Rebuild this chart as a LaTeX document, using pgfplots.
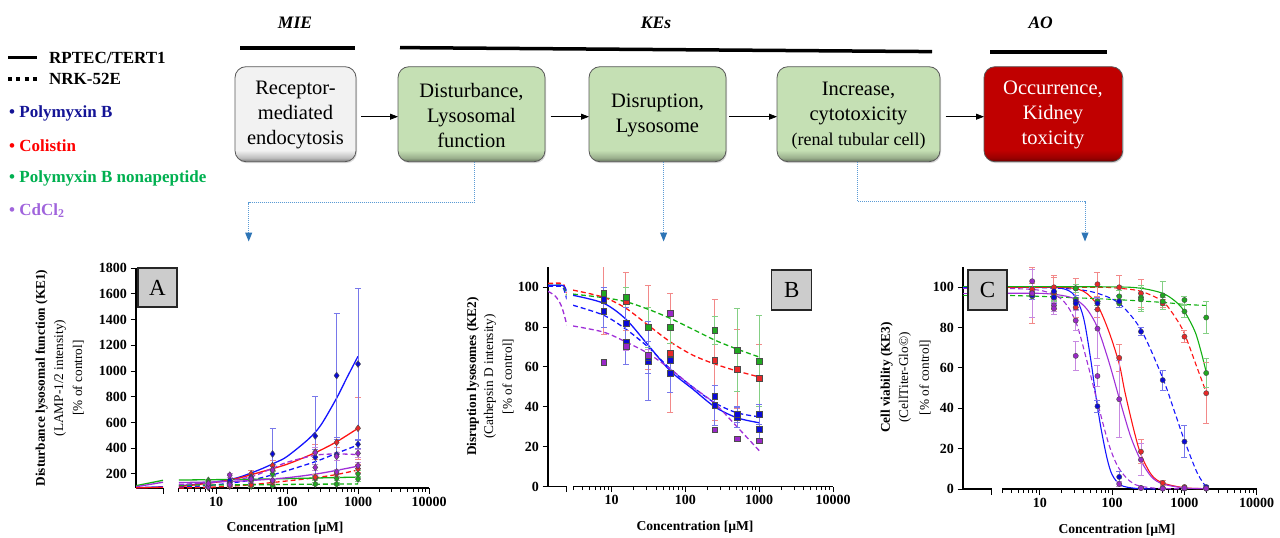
\documentclass[border=0pt]{standalone}
\usepackage{fontspec}
\setmainfont{Liberation Serif}
\usepackage{pgfplots}
\pgfplotsset{compat=1.18}
\usetikzlibrary{arrows.meta,shadows}

\definecolor{cB}{HTML}{1414FF}
\definecolor{cR}{HTML}{FF1414}
\definecolor{cG}{HTML}{12B012}
\definecolor{cP}{HTML}{A030D8}
\definecolor{mB}{HTML}{0A0AD8}
\definecolor{mR}{HTML}{E82828}
\definecolor{mG}{HTML}{20A820}
\definecolor{mP}{HTML}{9A28C8}
\definecolor{lgB}{HTML}{141496}
\definecolor{lgR}{HTML}{FF0000}
\definecolor{lgG}{HTML}{00B050}
\definecolor{lgP}{HTML}{A064DC}
\definecolor{boxG}{HTML}{C5E0B4}
\definecolor{boxW}{HTML}{F2F2F2}
\definecolor{boxR}{HTML}{C00000}
\definecolor{conn}{HTML}{5B9BD5}
\definecolor{connA}{HTML}{2E75B6}
\colorlet{boxGd}{boxG!50!black}
\colorlet{boxGm}{boxG!78!black}
\colorlet{boxWd}{boxW!50!black}
\colorlet{boxWm}{boxW!78!black}
\colorlet{boxRd}{boxR!55!black}
\colorlet{boxRm}{boxR!80!black}
\pgfdeclareverticalshading{shG}{100bp}{color(0bp)=(boxGd); color(25bp)=(boxGd); color(27bp)=(boxGm); color(31bp)=(boxG); color(100bp)=(boxG)}
\pgfdeclareverticalshading{shW}{100bp}{color(0bp)=(boxWd); color(25bp)=(boxWd); color(27bp)=(boxWm); color(31bp)=(boxW); color(100bp)=(boxW)}
\pgfdeclareverticalshading{shR}{100bp}{color(0bp)=(boxRd); color(25bp)=(boxRd); color(27bp)=(boxRm); color(31bp)=(boxR); color(100bp)=(boxR)}

\pgfplotsset{
  myKstyle/.style={scale only axis, anchor=south west, tick align=outside,
    axis line style={line width=1.1pt, black},
    every tick/.style={line width=1pt, black},
    major tick length=5.5pt, minor tick length=3.5pt,
    ticklabel style={font=\bfseries\fontsize{14}{14}\selectfont},
    /pgf/number format/assume math mode=true,
    /pgf/number format/1000 sep={},
    scaled ticks=false},
  myLeftSeg/.style={xmin=0, xmax=1, axis x line*=bottom, axis y line*=left, xtick={1}, xticklabels={}},
  mySC/.style={line width=1.3pt, smooth, no marks, #1},
  myDC/.style={line width=1.3pt, smooth, no marks, dash pattern=on 5pt off 3pt, #1},
  myPts/.style n args={3}{only marks, mark=#1, mark size=#2,
    mark options={fill=#3, draw=black!70, line width=0.45pt, solid},
    error bars/y dir=both, error bars/y explicit,
    error bars/error bar style={#3!55!white, line width=0.9pt, solid},
    error bars/error mark options={rotate=90, #3!55!white, mark size=3pt, line width=0.9pt, solid}},
}

\begin{document}
\begin{tikzpicture}[x=1pt, y=-1pt]
\path[use as bounding box] (0,0) rectangle (1280,538);

% ---------- legend ----------
\draw[line width=3.5pt] (8,57.7)--(37,57.7);
\draw[line width=3.5pt, dash pattern=on 4pt off 4.3pt] (8,79)--(37,79);
\node[anchor=west, inner sep=0, font=\bfseries\fontsize{17}{20}\selectfont] at (49,57.5) {RPTEC/TERT1};
\node[anchor=west, inner sep=0, font=\bfseries\fontsize{17}{20}\selectfont] at (49,79) {NRK-52E};
\node[anchor=west, inner sep=0, text=lgB, font=\bfseries\fontsize{17}{20}\selectfont] at (9,113.3) {\textbullet\ Polymyxin B};
\node[anchor=west, inner sep=0, text=lgR, font=\bfseries\fontsize{17}{20}\selectfont] at (9,146) {\textbullet\ Colistin};
\node[anchor=west, inner sep=0, text=lgG, font=\bfseries\fontsize{17}{20}\selectfont] at (9,178.3) {\textbullet\ Polymyxin B nonapeptide};
\node[anchor=west, inner sep=0, text=lgP, font=\bfseries\fontsize{17}{20}\selectfont] at (9,210.7) {\textbullet\ CdCl\textsubscript{2}};

% ---------- header ----------
\node[font=\bfseries\itshape\fontsize{17.5}{20}\selectfont] at (295,23) {MIE};
\node[font=\bfseries\itshape\fontsize{17.5}{20}\selectfont] at (656,23) {KEs};
\node[font=\bfseries\itshape\fontsize{17.5}{20}\selectfont] at (1040.7,23) {AO};
\draw[line width=3.5pt] (240,48)--(355,48);
\draw[line width=3.5pt] (400,47.6)--(932,51.6);
\draw[line width=3.5pt] (990,52)--(1107,52);

% ---------- boxes ----------
\shadedraw[shading=shW, rounded corners=11pt, draw=black!65, line width=0.8pt, drop shadow={shadow xshift=1pt, shadow yshift=-1.5pt, opacity=0.3}] (235,66.7) rectangle (356,161.7);
\shadedraw[shading=shG, rounded corners=11pt, draw=black!65, line width=0.8pt, drop shadow={shadow xshift=1pt, shadow yshift=-1.5pt, opacity=0.3}] (398,66.7) rectangle (545,161.7);
\shadedraw[shading=shG, rounded corners=11pt, draw=black!65, line width=0.8pt, drop shadow={shadow xshift=1pt, shadow yshift=-1.5pt, opacity=0.3}] (589,66.7) rectangle (726,161.7);
\shadedraw[shading=shG, rounded corners=11pt, draw=black!65, line width=0.8pt, drop shadow={shadow xshift=1pt, shadow yshift=-1.5pt, opacity=0.3}] (777,66.7) rectangle (940,161.7);
\shadedraw[shading=shR, rounded corners=11pt, draw=black!65, line width=0.8pt, drop shadow={shadow xshift=1pt, shadow yshift=-1.5pt, opacity=0.3}] (984,66.7) rectangle (1122.7,161.7);

\node[align=center, font=\fontsize{20.5}{25}\selectfont] at (295.5,115) {Receptor-\\mediated\\endocytosis};
\node[align=center, font=\fontsize{20.5}{25}\selectfont] at (471.5,115) {Disturbance,\\Lysosomal\\function};
\node[align=center, font=\fontsize{20.5}{25}\selectfont] at (657.5,115.5) {Disruption,\\Lysosome};
\node[align=center, font=\fontsize{20.5}{25}\selectfont] at (858.5,115.5) {Increase,\\cytotoxicity\\{\fontsize{18}{25}\selectfont (renal tubular cell)}};
\node[align=center, text=white, font=\fontsize{20.5}{25}\selectfont] at (1053,115) {Occurrence,\\Kidney\\toxicity};

\draw[line width=0.8pt, -{Triangle[length=8pt,width=6pt]}] (361,116.7)--(398,116.7);
\draw[line width=0.8pt, -{Triangle[length=8pt,width=6pt]}] (550.7,116.7)--(589,116.7);
\draw[line width=0.8pt, -{Triangle[length=8pt,width=6pt]}] (729,116.7)--(777,116.7);
\draw[line width=0.8pt, -{Triangle[length=8pt,width=6pt]}] (945.7,116.7)--(984,116.7);

% ---------- connectors ----------
\draw[conn, densely dotted, line width=1pt, -{Triangle[length=9pt,width=7pt,color=connA]}] (474.6,162)--(474.6,202.7)--(248.7,202.7)--(248.7,241.5);
\draw[conn, densely dotted, line width=1pt, -{Triangle[length=9pt,width=7pt,color=connA]}] (663.6,162)--(663.6,241.5);
\draw[conn, densely dotted, line width=1pt, -{Triangle[length=9pt,width=7pt,color=connA]}] (857.9,162)--(857.9,201.7)--(1085,201.7)--(1085,241.5);

% =================== PANEL A ===================
\begin{axis}[myKstyle, myLeftSeg, at={(136pt,-488pt)}, width=27pt, height=219.7pt,
  ymin=90, ymax=1800,
  ytick={200,400,600,800,1000,1200,1400,1600,1800},
  yticklabels={200,400,600,800,1000,1200,1400,1600,1800}]
\addplot[mySC=cG] coordinates {(0,108) (1,150)};
\addplot[mySC=cP] coordinates {(0,100) (1,135)};
\addplot[mySC=cB] coordinates {(0,92) (1,100)};
\addplot[mySC=cR] coordinates {(0,91) (1,96)};
\end{axis}
\begin{axis}[myKstyle, xmode=log, xmin=3, xmax=10000, axis x line*=bottom, axis y line=none,
  xtick={10,100,1000,10000}, xticklabels={10,100,1000,10000},
  minor xtick={3,4,5,6,7,8,9,20,30,40,50,60,70,80,90,200,300,400,500,600,700,800,900,2000,3000,4000,5000,6000,7000,8000,9000},
  ytick=\empty, at={(178.9pt,-488pt)}, width=250.1pt, height=219.7pt,
  ymin=90, ymax=1800]
\addplot[mySC=cB] coordinates {(3,108) (5,118) (10,138) (20,170) (40,230) (70,290) (100,335) (200,470) (300,580) (500,790) (700,950) (1000,1115)};
\addplot[mySC=cR] coordinates {(3,100) (10,135) (20,165) (40,210) (100,275) (250,365) (500,450) (1000,555)};
\addplot[myDC=cB] coordinates {(3,95) (10,115) (30,150) (60,190) (100,225) (250,295) (500,360) (1000,425)};
\addplot[myDC=cR] coordinates {(3,90) (10,98) (30,115) (100,145) (250,170) (500,195) (1000,230)};
\addplot[mySC=cG] coordinates {(3,152) (30,158) (100,163) (1000,175)};
\addplot[myDC=cG] coordinates {(3,112) (30,115) (100,118) (1000,122)};
\addplot[mySC=cP] coordinates {(3,132) (10,138) (30,148) (100,170) (300,205) (1000,260)};
\addplot[myDC=cP] coordinates {(3,118) (10,135) (30,175) (60,240) (100,290) (250,345) (500,355) (1000,350)};
% points
\addplot[myPts={diamond*}{3.4pt}{mG}] coordinates {(7.8,150) +- (0,8) (15.6,150) +- (0,10) (31.25,150) +- (0,10) (62.5,200) +- (0,20) (250,165) +- (0,15) (500,165) +- (0,15) (1000,200) +- (0,25)};
\addplot[myPts={diamond*}{3.4pt}{mG}] coordinates {(7.8,130) +- (0,8) (15.6,115) +- (0,8) (31.25,105) +- (0,8) (62.5,110) +- (0,10) (250,120) +- (0,10) (500,120) +- (0,10) (1000,160) +- (0,20)};
\addplot[myPts={diamond*}{3.4pt}{mR}] coordinates {(7.8,95) +- (0,5) (15.6,105) +- (0,8) (31.25,115) +- (0,10) (62.5,135) +- (0,15) (250,175) +- (0,20) (500,200) +- (0,25) (1000,240) +- (0,30)};
\addplot[myPts={diamond*}{3.4pt}{mR}] coordinates {(7.8,100) +- (0,10) (15.6,140) +- (0,15) (31.25,200) +- (0,30) (62.5,265) +- (0,40) (250,370) +- (0,60) (500,445) +- (0,40) (1000,555) +- (0,240)};
\addplot[myPts={diamond*}{3.4pt}{mB}] coordinates {(7.8,105) +- (0,10) (15.6,130) +- (0,15) (31.25,175) +- (0,25) (62.5,230) +- (0,40) (250,330) +- (0,60) (500,350) +- (0,120) (1000,430) +- (0,30)};
\addplot[myPts={diamond*}{3.4pt}{mB}] coordinates {(7.8,115) +- (0,15) (15.6,150) +- (0,20) (31.25,165) +- (0,40) (62.5,355) +- (0,195) (250,495) +- (0,305) (500,965) +- (0,480) (1000,1055) +- (0,590)};
\addplot[myPts={diamond*}{3.4pt}{mP}] coordinates {(7.8,100) +- (0,10) (15.6,115) +- (0,10) (31.25,150) +- (0,15) (62.5,150) +- (0,15) (250,250) +- (0,20) (500,215) +- (0,20) (1000,265) +- (0,25)};
\addplot[myPts={diamond*}{3.4pt}{mP}] coordinates {(7.8,125) +- (0,10) (15.6,190) +- (0,15) (31.25,160) +- (0,15) (62.5,230) +- (0,25) (250,365) +- (0,40) (500,335) +- (0,30) (1000,360) +- (0,30)};
\end{axis}

% =================== PANEL B ===================
\begin{axis}[myKstyle, myLeftSeg, at={(548pt,-486.5pt)}, width=18.7pt, height=219.1pt,
  ymin=0, ymax=110, ytick={0,20,40,60,80,100}, yticklabels={0,20,40,60,80,100}]
\addplot[myDC=cP] coordinates {(0,98) (0.4,95.5) (0.7,91) (0.9,85) (1,81)};
\addplot[myDC=cB] coordinates {(0,100.5) (0.7,100.5) (0.85,99) (0.95,96) (1,94)};
\addplot[myDC=cG] coordinates {(0,101) (0.75,101) (0.9,99) (1,96)};
\addplot[myDC=cR] coordinates {(0,102) (0.75,102) (0.9,100) (1,97)};
\addplot[mySC=cB] coordinates {(0,101) (0.75,101) (0.9,100) (1,98)};
\end{axis}
\begin{axis}[myKstyle, xmode=log, xmin=3, xmax=10000, axis x line*=bottom, axis y line=none,
  xtick={10,100,1000,10000}, xticklabels={10,100,1000,10000},
  minor xtick={3,4,5,6,7,8,9,20,30,40,50,60,70,80,90,200,300,400,500,600,700,800,900,2000,3000,4000,5000,6000,7000,8000,9000},
  ytick=\empty, at={(573pt,-486.5pt)}, width=260pt, height=219.1pt,
  ymin=0, ymax=110]
\addplot[myDC=cG] coordinates {(3,96.6) (7.8,94.8) (15.6,92.8) (31.25,89) (62.5,84.4) (125,79) (250,73.5) (500,69) (1000,65)};
\addplot[myDC=cR] coordinates {(3,98.6) (7.8,95) (15.6,89.5) (31.25,81) (62.5,72.6) (125,66) (250,61.5) (500,58) (1000,55)};
\addplot[mySC=cB] coordinates {(3,96) (7.8,92) (15.6,84) (31.25,71) (62.5,58) (125,49) (250,40) (500,34.5) (1000,32)};
\addplot[myDC=cB] coordinates {(3,91) (7.8,86) (15.6,79) (31.25,70) (62.5,59) (125,50) (250,42) (500,37) (1000,35)};
\addplot[myDC=cP] coordinates {(3,80.6) (7.8,77.5) (15.6,72.6) (31.25,66.8) (62.5,59) (125,50) (250,41.7) (500,30) (1000,18)};
% points
\addplot[myPts={square*}{2.9pt}{mR}] coordinates {(7.8,93.5) +- (0,17) (15.6,93) +- (0,14.5) (31.25,80) +- (0,21) (62.5,67) +- (0,30) (250,63.5) +- (0,30.5) (500,59) +- (0,20) (1000,54.5) +- (0,17)};
\addplot[myPts={square*}{2.9pt}{mG}] coordinates {(7.8,97) +- (0,3) (15.6,95) +- (0,5) (31.25,80) +- (0,10) (62.5,80) +- (0,8) (250,78.5) +- (0,7) (500,68.5) +- (0,21) (1000,63) +- (0,23)};
\addplot[myPts={square*}{2.9pt}{mB}] coordinates {(7.8,94) +- (0,6) (15.6,82) +- (0,8) (31.25,63) +- (0,20) (62.5,57) +- (0,10) (250,40.8) +- (0,10) (500,34.5) +- (0,5) (1000,28.7) +- (0,6)};
\addplot[myPts={square*}{2.9pt}{mB}] coordinates {(7.8,88) +- (0,8) (15.6,72.5) +- (0,11) (31.25,65) +- (0,8) (62.5,63.4) +- (0,5) (250,45.5) +- (0,5) (500,36.4) +- (0,4) (1000,36.4) +- (0,5)};
\addplot[myPts={square*}{2.9pt}{mP}] coordinates {(7.8,62.5) +- (0,1) (15.6,70.5) +- (0,2) (31.25,66) +- (0,3) (62.5,87) +- (0,1.5) (250,28.5) +- (0,1) (500,24) +- (0,1) (1000,23) +- (0,1)};
\end{axis}

% =================== PANEL C ===================
\begin{axis}[myKstyle, myLeftSeg, at={(963pt,-489pt)}, width=28.7pt, height=221.9pt,
  ymin=0, ymax=110, ytick={0,20,40,60,80,100}, yticklabels={0,20,40,60,80,100}]
\addplot[myDC=cG] coordinates {(0,96) (1,96)};
\addplot[mySC=cP] coordinates {(0,97) (1,97)};
\addplot[myDC=cP] coordinates {(0,99.5) (1,99.5)};
\addplot[mySC=cB] coordinates {(0,100) (1,100)};
\addplot[mySC=cG] coordinates {(0,100.3) (1,100.3)};
\end{axis}
\begin{axis}[myKstyle, xmode=log, xmin=3, xmax=10000, axis x line*=bottom, axis y line=none,
  xtick={10,100,1000,10000}, xticklabels={10,100,1000,10000},
  minor xtick={3,4,5,6,7,8,9,20,30,40,50,60,70,80,90,200,300,400,500,600,700,800,900,2000,3000,4000,5000,6000,7000,8000,9000},
  ytick=\empty, at={(1002.2pt,-489pt)}, width=254.5pt, height=221.9pt,
  ymin=0, ymax=110]
\addplot[mySC=cB, line width=1.1pt] coordinates {(3,100) (10,100) (20,99.5) (30,96) (40,85) (50,65) (60,45) (70,30) (85,15) (100,7) (130,2) (200,0.4) (400,0)};
\addplot[myDC=cB, line width=1.1pt] coordinates {(3,100) (10,99.8) (31.25,99) (62.5,97) (125,92) (250,79) (500,55) (750,37) (1000,24) (1500,8) (2000,1)};
\addplot[mySC=cR, line width=1.1pt] coordinates {(3,100) (20,100) (40,98) (62.5,91) (90,78) (125,62) (150,48) (200,29) (250,17) (350,7) (500,3) (1000,0.6) (2000,0.2)};
\addplot[myDC=cR, line width=1.1pt] coordinates {(3,100) (62.5,100) (125,99.5) (250,98) (500,93) (750,85) (1000,77) (1500,60) (2000,48)};
\addplot[mySC=cG, line width=1.1pt] coordinates {(3,100.3) (100,100.2) (250,99.5) (500,97) (750,93) (1000,88) (1400,78) (1700,68) (2000,58)};
\addplot[myDC=cG, line width=1.1pt] coordinates {(3,96) (10,95.5) (100,94) (500,92.5) (1000,91.5) (2000,91)};
\addplot[mySC=cP, line width=1.1pt] coordinates {(3,97) (10,97) (20,96) (31.25,94) (45,89) (62.5,80) (90,63) (125,45) (180,26) (250,14) (350,6) (500,2.5) (1000,0.5) (2000,0.2)};
\addplot[myDC=cP, line width=1.1pt] coordinates {(3,99.5) (10,98.5) (20,94) (31.25,83) (45,63) (62.5,43) (90,22) (125,10) (200,2.5) (400,0.4) (1000,0.1)};
% points
\addplot[myPts={*}{2.6pt}{mR}] coordinates {(7.8,96) +- (0,14) (15.6,97) +- (0,8) (31.25,90) +- (0,5) (62.5,89) +- (0,4) (125,65) +- (0,6.5) (250,18.5) +- (0,6) (500,3) +- (0,1) (1000,1) +- (0,0.5) (2000,0.5) +- (0,0.5)};
\addplot[myPts={*}{2.6pt}{mR}] coordinates {(7.8,99) +- (0,3) (15.6,100) +- (0,6) (31.25,99.5) +- (0,5) (62.5,101.5) +- (0,6) (125,100) +- (0,6) (250,97) +- (0,7) (500,92) +- (0,2) (1000,75.5) +- (0,3) (2000,47.5) +- (0,15)};
\addplot[myPts={*}{2.6pt}{mG}] coordinates {(7.8,96) +- (0,2) (15.6,95) +- (0,2) (31.25,99.5) +- (0,2) (62.5,93) +- (0,2) (125,95.5) +- (0,3) (250,95) +- (0,6) (500,96) +- (0,7) (1000,88) +- (0,3) (2000,57.5) +- (0,7)};
\addplot[myPts={*}{2.6pt}{mG}] coordinates {(7.8,95.5) +- (0,1.5) (15.6,95) +- (0,1.5) (31.25,94) +- (0,2) (62.5,93) +- (0,2) (125,92) +- (0,2) (250,94) +- (0,6) (500,93) +- (0,2) (1000,93.7) +- (0,2) (2000,85) +- (0,8)};
\addplot[myPts={*}{2.6pt}{mB}] coordinates {(7.8,96) +- (0,2) (15.6,95) +- (0,3) (31.25,93) +- (0,3) (62.5,92) +- (0,3) (125,93) +- (0,3) (250,78) +- (0,2) (500,54) +- (0,5) (1000,23.5) +- (0,8) (2000,1) +- (0,1)};
\addplot[myPts={*}{2.6pt}{mB}] coordinates {(7.8,97) +- (0,3) (15.6,98) +- (0,2) (31.25,92) +- (0,3) (62.5,41) +- (0,3) (125,6) +- (0,2.5) (250,0.5) +- (0,0.5) (500,0.2) +- (0,0.3) (1000,0.2) +- (0,0.3) (2000,0.2) +- (0,0.3)};
\addplot[myPts={*}{2.6pt}{mP}] coordinates {(7.8,97) +- (0,12) (15.6,91) +- (0,3) (31.25,83.5) +- (0,5) (62.5,79.5) +- (0,15) (125,44.5) +- (0,19) (250,14.5) +- (0,8) (500,0.5) +- (0,0.5) (1000,0.3) +- (0,0.3) (2000,0.2) +- (0,0.3)};
\addplot[myPts={*}{2.6pt}{mP}] coordinates {(7.8,103) +- (0,6) (15.6,89.5) +- (0,3) (31.25,66) +- (0,7) (62.5,56) +- (0,5) (125,2.5) +- (0,1) (250,0.5) +- (0,0.5) (500,0.2) +- (0,0.3) (1000,0.5) +- (0,0.5) (2000,0.3) +- (0,0.3)};
\end{axis}

% ---------- axis labels ----------
\node[rotate=90, font=\bfseries\fontsize{13.3}{15}\selectfont] at (41.7,378) {Disturbance lysosomal function (KE1)};
\node[rotate=90, font=\fontsize{13.3}{15}\selectfont] at (60,378) {(LAMP-1/2 intensity)};
\node[rotate=90, font=\fontsize{13.3}{15}\selectfont] at (78.3,378) {[\% of control]};
\node[rotate=90, font=\bfseries\fontsize{13.3}{15}\selectfont] at (473,376.5) {Disruption lysosomes (KE2)};
\node[rotate=90, font=\fontsize{13.3}{15}\selectfont] at (490,376.5) {(Cathepsin D intensity)};
\node[rotate=90, font=\fontsize{13.3}{15}\selectfont] at (508,376.5) {[\% of control]};
\node[rotate=90, font=\bfseries\fontsize{13.3}{15}\selectfont] at (886.7,377.5) {Cell viability (KE3)};
\node[rotate=90, font=\fontsize{13.3}{15}\selectfont] at (905,377.5) {(CellTiter-Glo©)};
\node[rotate=90, font=\fontsize{13.3}{15}\selectfont] at (925,377.5) {[\% of control]};
\node[font=\bfseries\fontsize{13.6}{15}\selectfont] at (285,528.5) {Concentration [µM]};
\node[font=\bfseries\fontsize{13.6}{15}\selectfont] at (695,527.5) {Concentration [µM]};
\node[font=\bfseries\fontsize{13.6}{15}\selectfont] at (1117,530) {Concentration [µM]};

% ---------- panel letters ----------
\node[draw=black!85, line width=1.2pt, fill=black!20, minimum width=39pt, minimum height=39pt, inner sep=0, font=\fontsize{23}{23}\selectfont] at (157.5,287.5) {A};
\node[draw=black!85, line width=1.2pt, fill=black!20, minimum width=40pt, minimum height=40pt, inner sep=0, font=\fontsize{23}{23}\selectfont] at (791.7,290) {B};
\node[draw=black!85, line width=1.2pt, fill=black!20, minimum width=39pt, minimum height=40pt, inner sep=0, font=\fontsize{23}{23}\selectfont] at (987.5,290) {C};
\end{tikzpicture}
\end{document}
